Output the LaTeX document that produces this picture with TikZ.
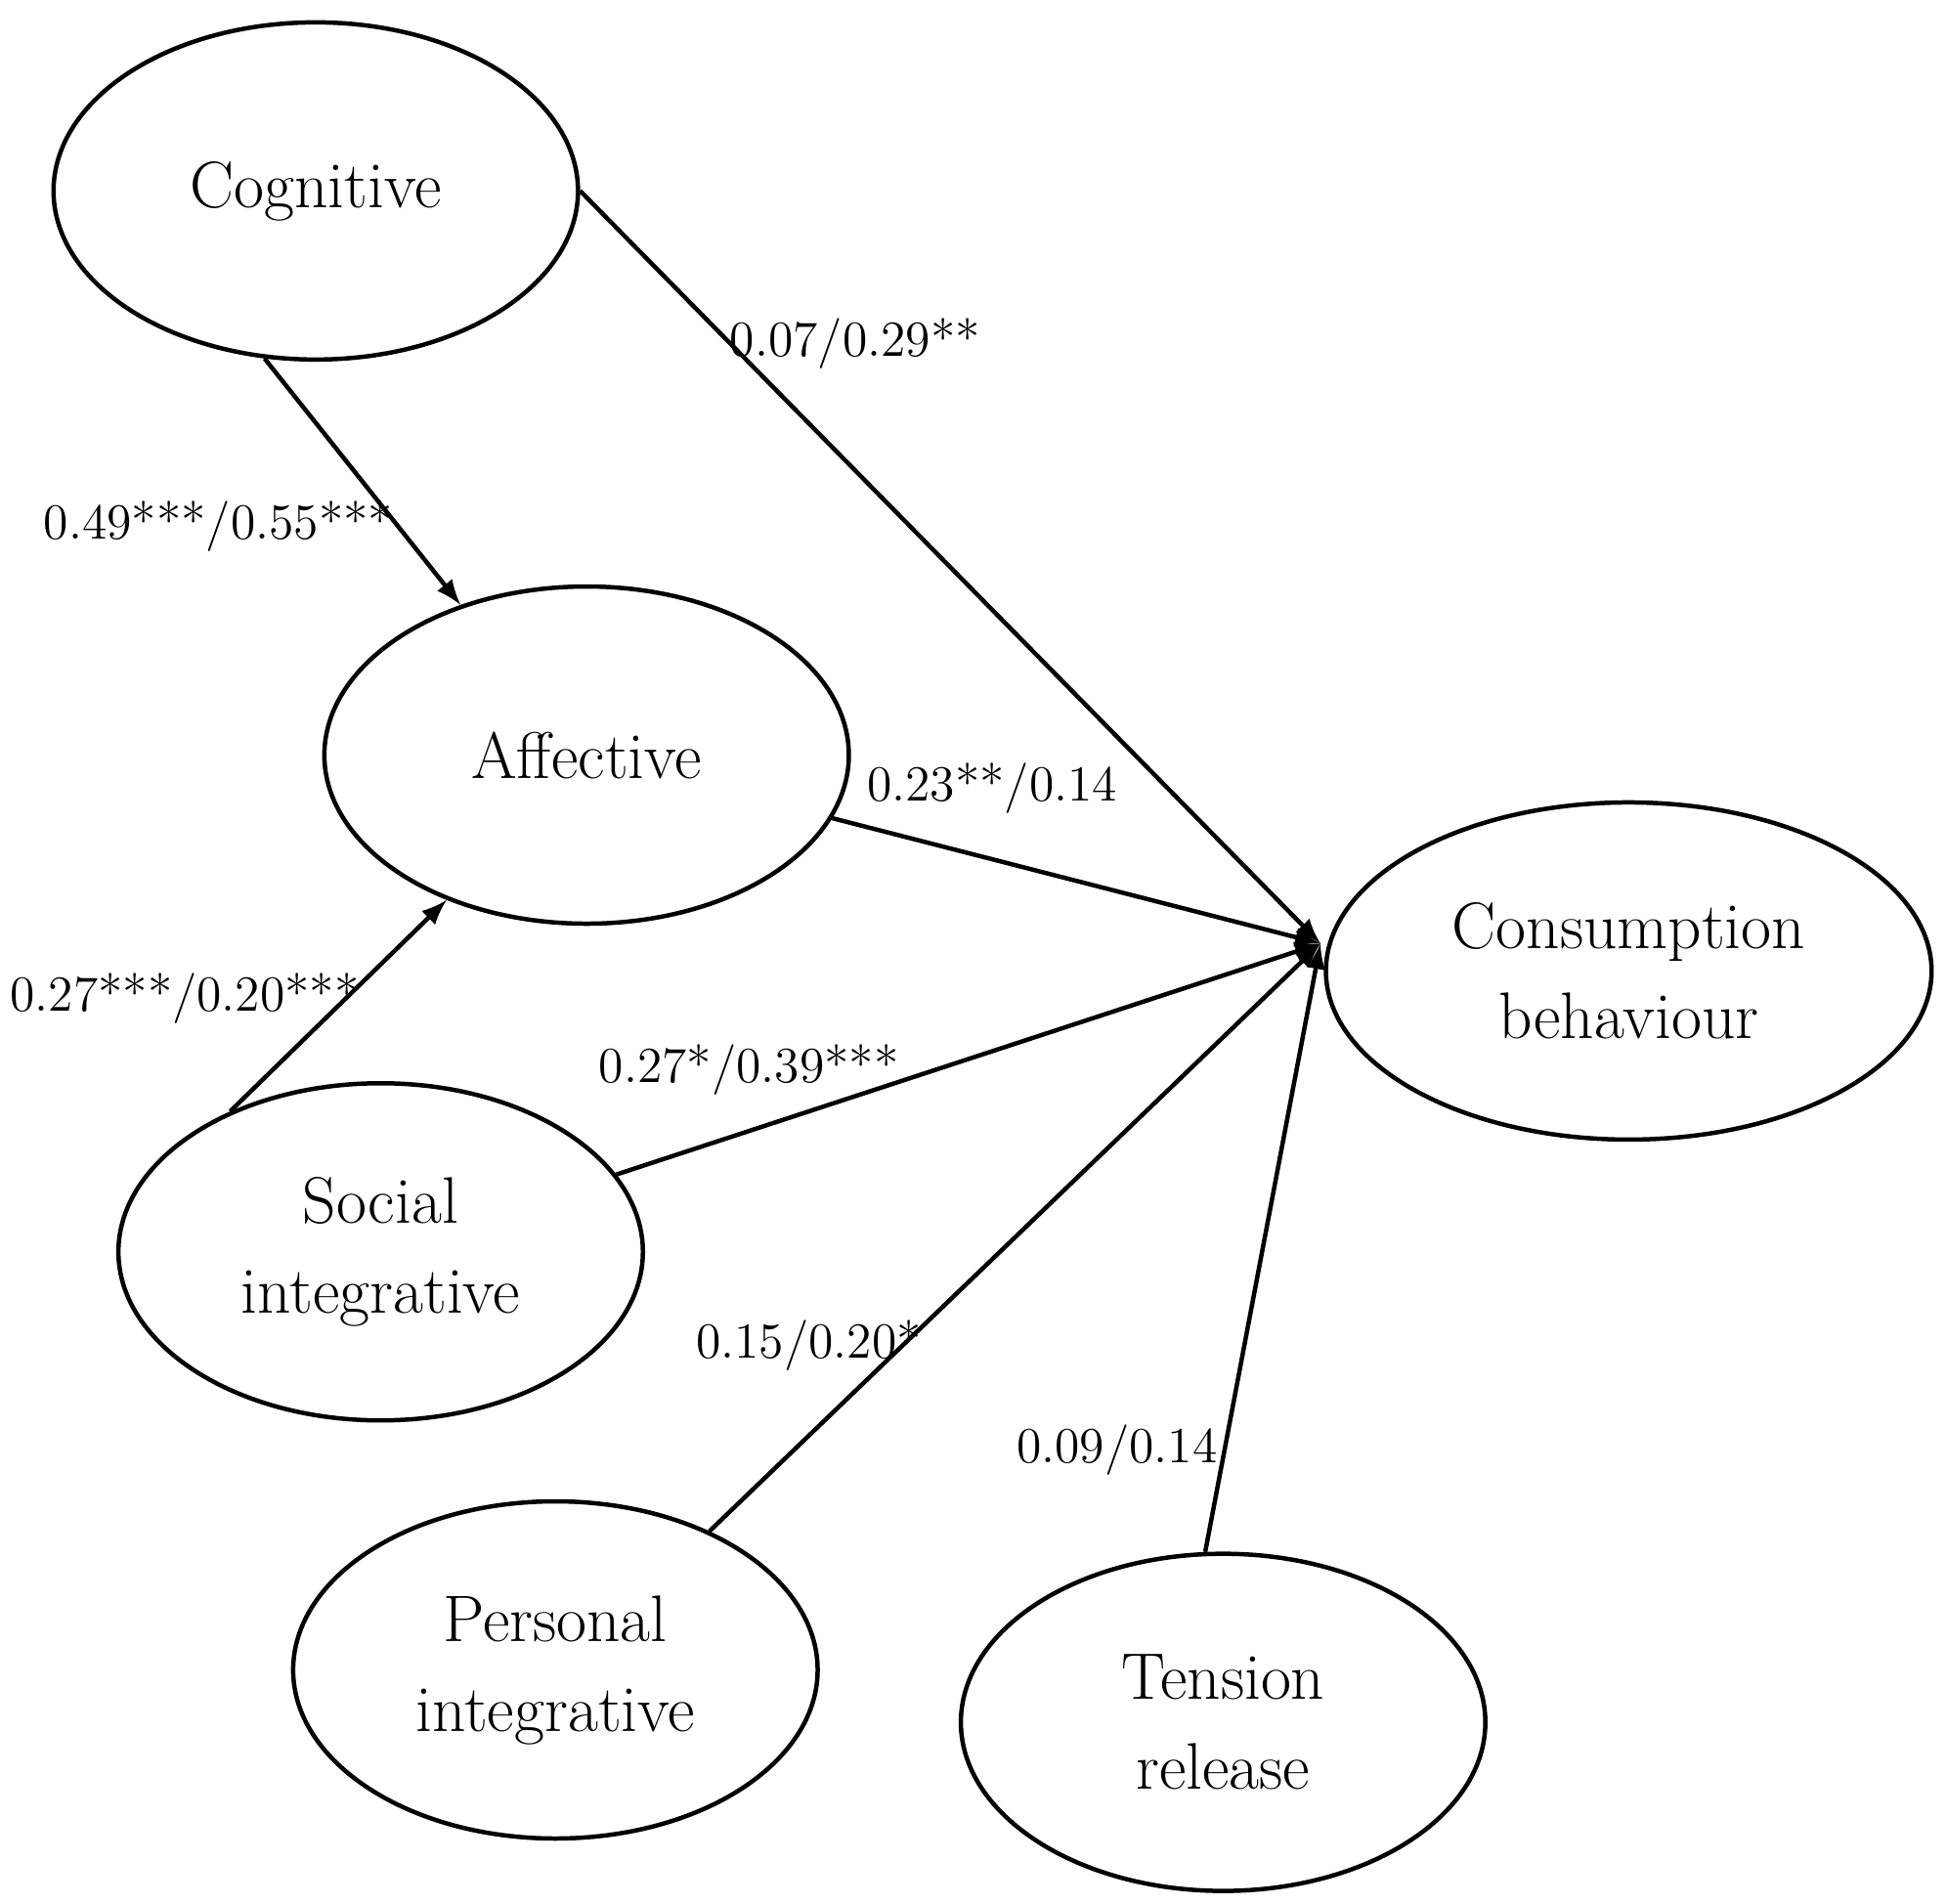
\documentclass[tikz,border=0pt]{standalone}
\usepackage{tikz}
\usetikzlibrary{shapes.geometric}
\tikzset{
  factor/.style={draw=black,line width=1pt,ellipse,minimum width=4.2cm,minimum height=2.7cm,inner sep=0pt,align=center,font=\fontsize{15}{20.5}\selectfont},
  path/.style={draw=black,line width=1pt,-latex},
  coef/.style={text=black,font=\fontsize{11.5}{14}\selectfont}
}
\begin{document}
\begin{tikzpicture}[x=0.01cm,y=-0.01cm]
\useasboundingbox (0,0) rectangle (1560,1525);

% factors:
\node[factor] (cog) at (253,153) {Cognitive};
\node[factor] (aff) at (470,605) {Affective};
\node[factor] (soc) at (305,1003) {Social\\integrative};
\node[factor] (per) at (445,1338) {Personal\\integrative};
\node[factor] (ten) at (980,1380) {Tension\\release};
\node[factor,minimum width=4.85cm] (con) at (1305,778) {Consumption\\behaviour};
\coordinate (tip) at (1058,756);

% paths:
\draw[path] (cog.253) -- (aff.130);
\draw[path] (soc.137) -- (aff.226);
\draw[path] (cog.east) -- (tip);
\draw[path] (aff) -- (tip);
\draw[path] (soc) -- (tip);
\draw[path] (per.42) -- (tip);
\draw[path] (ten.96) -- (tip);

% coefficients:
\node[coef] (c1) at (685,275) {0.07/0.29**};
\node[coef] (c2) at (175,422) {0.49***/0.55***};
\node[coef] (c3) at (795,632) {0.23**/0.14};
\node[coef] (c4) at (148,800) {0.27***/0.20***};
\node[coef] (c5) at (600,857) {0.27*/0.39***};
\node[coef] (c6) at (648,1078) {0.15/0.20*};
\node[coef] (c7) at (895,1162) {0.09/0.14};

\end{tikzpicture}
\end{document}
